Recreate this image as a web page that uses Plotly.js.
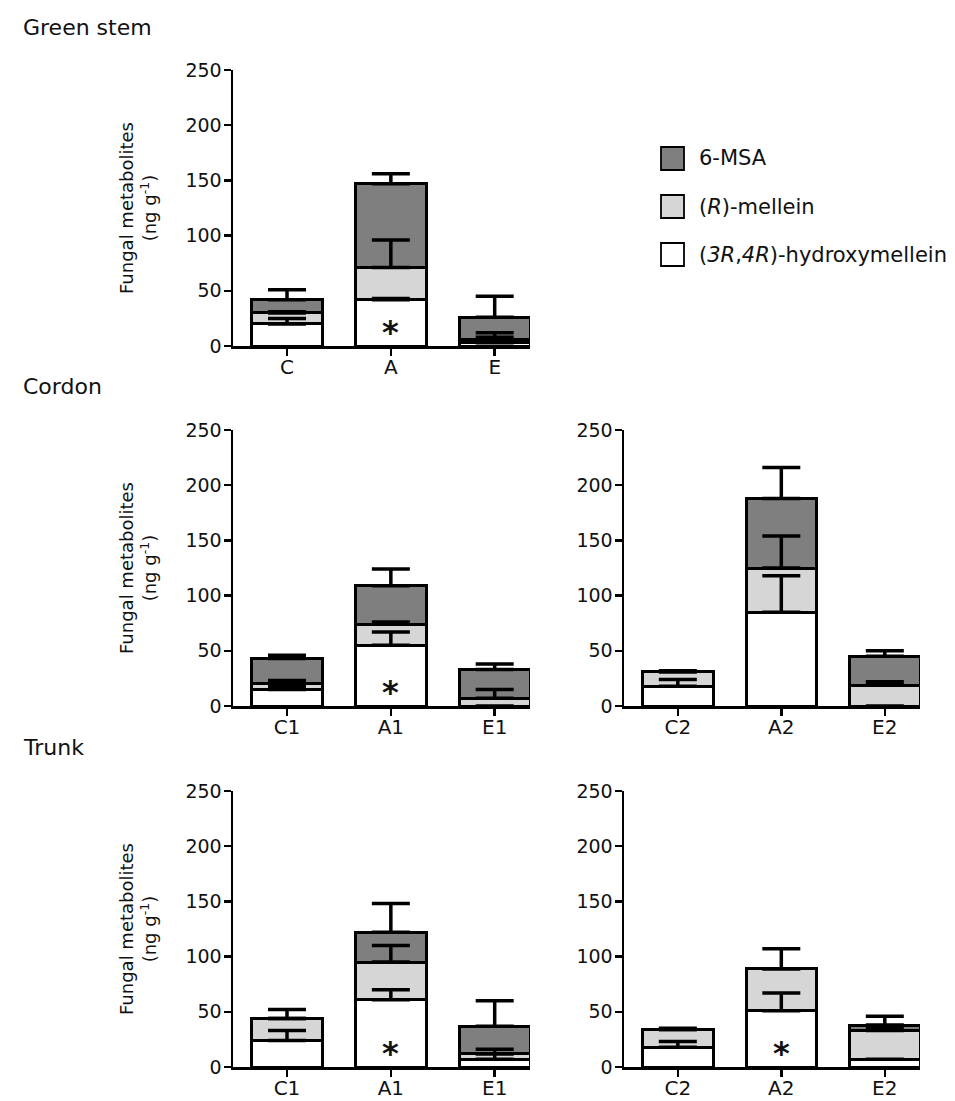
<!DOCTYPE html>
<html><head><meta charset="utf-8">
<script src="https://cdn.plot.ly/plotly-3.0.1.min.js"></script>
<style>html,body{margin:0;padding:0;background:#fff}#chart{width:955px;height:1101px}</style>
</head><body><div id="chart"></div>
<script>
// ---------- categories / tick labels ----------
const catsGreen = ['C', 'A', 'E'];
const catsSet1 = ['C1', 'A1', 'E1'];
const catsSet2 = ['C2', 'A2', 'E2'];

// ---------- series names ----------
const seriesNames = ['(<i>3R</i>,<i>4R</i>)-hydroxymellein', '(<i>R</i>)-mellein', '6-MSA'];
const seriesColors = ['#ffffff', '#d6d6d6', '#7f7f7f'];

// ---------- Green stem ----------
const greenHydroxy = [20, 42, 3];
const greenHydroxyErr = [5, 1, 5];
const greenMellein = [10, 29, 3];
const greenMelleinErr = [1, 25, 6];
const greenMSA = [12, 76, 20];
const greenMSAErr = [9, 9, 19];

// ---------- Cordon, set 1 ----------
const cordon1Hydroxy = [15, 55, 0];
const cordon1HydroxyErr = [3, 12, 0];
const cordon1Mellein = [5, 19, 7];
const cordon1MelleinErr = [3, 2, 8];
const cordon1MSA = [23, 35, 26];
const cordon1MSAErr = [3, 15, 5];

// ---------- Cordon, set 2 ----------
const cordon2Hydroxy = [18, 85, 0];
const cordon2HydroxyErr = [6, 33, 0];
const cordon2Mellein = [13, 40, 19];
const cordon2MelleinErr = [1, 29, 3];
const cordon2MSA = [0, 63, 26];
const cordon2MSAErr = [0, 28, 5];

// ---------- Trunk, set 1 ----------
const trunk1Hydroxy = [24, 61, 7];
const trunk1HydroxyErr = [9, 9, 5];
const trunk1Mellein = [20, 34, 5];
const trunk1MelleinErr = [8, 15, 4];
const trunk1MSA = [0, 27, 25];
const trunk1MSAErr = [0, 26, 23];

// ---------- Trunk, set 2 ----------
const trunk2Hydroxy = [18, 51, 7];
const trunk2HydroxyErr = [5, 16, 0];
const trunk2Mellein = [16, 38, 26];
const trunk2MelleinErr = [1, 18, 2];
const trunk2MSA = [0, 0, 5];
const trunk2MSAErr = [0, 0, 8];

// ---------- significance marks (categories marked with *) ----------
const starsGreen = ['A'];
const starsCordon1 = ['A1'];
const starsCordon2 = [];
const starsTrunk1 = ['A1'];
const starsTrunk2 = ['A2'];

// ---------- layout helpers ----------
const W = 955, H = 1101;
const FONT = 'DejaVu Sans, Verdana, sans-serif';
const px2x = p => p / W;
const px2y = p => 1 - p / H;

const panels = [
  {s: '', cats: catsGreen, vals: [greenHydroxy, greenMellein, greenMSA], errs: [greenHydroxyErr, greenMelleinErr, greenMSAErr], stars: starsGreen, xd: [233, 530], yd: [70, 346], ytitle: true},
  {s: '2', cats: catsSet1, vals: [cordon1Hydroxy, cordon1Mellein, cordon1MSA], errs: [cordon1HydroxyErr, cordon1MelleinErr, cordon1MSAErr], stars: starsCordon1, xd: [233, 530], yd: [430, 706], ytitle: true},
  {s: '3', cats: catsSet2, vals: [cordon2Hydroxy, cordon2Mellein, cordon2MSA], errs: [cordon2HydroxyErr, cordon2MelleinErr, cordon2MSAErr], stars: starsCordon2, xd: [624, 920], yd: [430, 706], ytitle: false},
  {s: '4', cats: catsSet1, vals: [trunk1Hydroxy, trunk1Mellein, trunk1MSA], errs: [trunk1HydroxyErr, trunk1MelleinErr, trunk1MSAErr], stars: starsTrunk1, xd: [233, 530], yd: [791, 1067], ytitle: true},
  {s: '5', cats: catsSet2, vals: [trunk2Hydroxy, trunk2Mellein, trunk2MSA], errs: [trunk2HydroxyErr, trunk2MelleinErr, trunk2MSAErr], stars: starsTrunk2, xd: [624, 920], yd: [791, 1067], ytitle: false}
];

const traces = [];
const layout = {
  width: W, height: H,
  margin: {l: 0, r: 0, t: 0, b: 0},
  paper_bgcolor: '#fff', plot_bgcolor: 'rgba(0,0,0,0)',
  barmode: 'stack', showlegend: false,
  font: {family: FONT, color: '#111'},
  annotations: [], shapes: []
};

panels.forEach(p => {
  const xa = 'x' + p.s, ya = 'y' + p.s;
  // stacked bars
  p.vals.forEach((v, i) => {
    traces.push({
      type: 'bar', x: p.cats, y: v, xaxis: xa, yaxis: ya, width: 0.68,
      name: seriesNames[i],
      marker: {color: seriesColors[i], line: {color: '#000', width: 3}},
      hoverinfo: 'skip'
    });
  });
  // error bars (upper only), drawn on top of all fills
  const cum = p.cats.map(() => 0);
  p.vals.forEach((v, i) => {
    const tops = v.map((val, k) => (cum[k] += val));
    traces.push({
      type: 'scatter', mode: 'markers', x: p.cats, y: tops.slice(), xaxis: xa, yaxis: ya,
      marker: {size: 1, opacity: 0}, hoverinfo: 'skip', showlegend: false,
      error_y: {type: 'data', symmetric: false, array: p.errs[i], arrayminus: p.errs[i].map(() => 0),
                color: '#000', thickness: 3.5, width: 19}
    });
  });
  // axes
  layout['xaxis' + p.s] = {
    domain: [px2x(p.xd[0]), px2x(p.xd[1])], anchor: ya, type: 'category',
    range: [-0.52, 2.34], showline: true, linewidth: 2.5, linecolor: '#000',
    ticks: 'outside', ticklen: 7, tickwidth: 2.5, tickcolor: '#000', ticklabelstandoff: -6,
    tickfont: {size: 20, family: FONT, color: '#111'}, showgrid: false, zeroline: false, fixedrange: true
  };
  const yax = {
    domain: [px2y(p.yd[1]), px2y(p.yd[0])], anchor: xa,
    range: [0, 250], tick0: 0, dtick: 50, showline: true, linewidth: 2.5, linecolor: '#000',
    ticks: 'outside', ticklen: 7, tickwidth: 2.5, tickcolor: '#000', ticklabelstandoff: -2,
    tickfont: {size: 19, family: FONT, color: '#111'}, showgrid: false, zeroline: false, fixedrange: true
  };
  if (p.ytitle) {
    yax.title = {text: 'Fungal metabolites<br>(ng g<sup>-1</sup>)', font: {size: 18, family: FONT, color: '#111'}, standoff: 24};
  }
  layout['yaxis' + p.s] = yax;
  // significance stars
  p.stars.forEach(c => {
    layout.annotations.push({
      xref: xa, yref: ya, x: c, y: 15, text: '<b>*</b>', showarrow: false,
      font: {size: 32, family: FONT, color: '#111'}, yanchor: 'middle', yshift: -3
    });
  });
});

// panel titles
[['Green stem', 27], ['Cordon', 387], ['Trunk', 747]].forEach(([t, y]) => {
  layout.annotations.push({xref: 'paper', yref: 'paper', x: px2x(21), y: px2y(y), xanchor: 'left', yanchor: 'middle',
    text: t, showarrow: false, font: {size: 22, family: FONT, color: '#111'}});
});

// legend (drawn manually, reversed order like reference)
[2, 1, 0].forEach((si, k) => {
  const top = 147 + k * 48;
  layout.shapes.push({type: 'rect', xref: 'paper', yref: 'paper',
    x0: px2x(661), x1: px2x(684), y0: px2y(top + 23), y1: px2y(top),
    fillcolor: seriesColors[si], line: {color: '#000', width: 1.8}});
  layout.annotations.push({xref: 'paper', yref: 'paper', x: px2x(697), y: px2y(top + 11.5), xanchor: 'left', yanchor: 'middle',
    text: seriesNames[si], showarrow: false, font: {size: 21, family: FONT, color: '#111'}});
});

Plotly.newPlot('chart', traces, layout, {staticPlot: true, displayModeBar: false});
</script>
</body></html>
